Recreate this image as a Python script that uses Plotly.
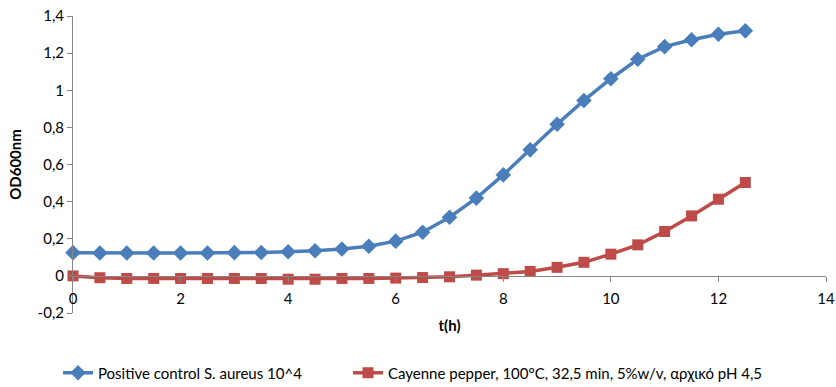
import plotly.graph_objects as go

t_h = [0, 0.5, 1, 1.5, 2, 2.5, 3, 3.5, 4, 4.5, 5, 5.5, 6, 6.5, 7, 7.5, 8, 8.5, 9, 9.5, 10, 10.5, 11, 11.5, 12, 12.5]
positive_control = [0.125, 0.123, 0.123, 0.123, 0.123, 0.123, 0.125, 0.126, 0.13, 0.135, 0.145, 0.16, 0.187,
                    0.235, 0.316, 0.419, 0.544, 0.679, 0.817, 0.945, 1.062, 1.167, 1.235, 1.272, 1.302, 1.32]
cayenne = [0.0, -0.01, -0.014, -0.014, -0.014, -0.014, -0.014, -0.014, -0.018, -0.018, -0.014, -0.014, -0.012,
           -0.009, -0.005, 0.004, 0.012, 0.024, 0.046, 0.073, 0.117, 0.167, 0.239, 0.323, 0.413, 0.503]
y_tickvals = [-0.2, 0, 0.2, 0.4, 0.6, 0.8, 1.0, 1.2, 1.4]
y_ticktext = ["-0,2", "0", "0,2", "0,4", "0,6", "0,8", "1", "1,2", "1,4"]
x_tickvals = [0, 2, 4, 6, 8, 10, 12, 14]
series_names = ["Positive control S. aureus 10^4",
                "Cayenne pepper, 100°C, 32,5 min, 5%w/v, αρχικό pH 4,5"]

FONT = "Lato, Open Sans, sans-serif"
AXIS_COLOR = "#868686"

fig = go.Figure()
fig.add_trace(go.Scatter(
    x=t_h, y=positive_control, name=series_names[0], mode="lines+markers",
    line=dict(color="#4A7EBB", width=3.5),
    marker=dict(symbol="diamond", size=12, color="#4A7EBB"),
    cliponaxis=False, legend="legend"))
fig.add_trace(go.Scatter(
    x=t_h, y=cayenne, name=series_names[1], mode="lines+markers",
    line=dict(color="#BE4B48", width=3.5),
    marker=dict(symbol="square", size=11, color="#BE4B48"),
    cliponaxis=False, legend="legend2"))

legend_common = dict(orientation="h", xref="container", xanchor="left",
                     y=14 / 387, yref="container", yanchor="middle",
                     font=dict(size=15), bgcolor="rgba(0,0,0,0)")

fig.update_layout(
    width=836, height=387,
    margin=dict(l=73, r=10, t=16, b=74, autoexpand=False),
    paper_bgcolor="white", plot_bgcolor="white",
    font=dict(family=FONT, size=14, color="#000000"),
    showlegend=True,
    legend=dict(x=58 / 836, **legend_common),
    legend2=dict(x=348 / 836, **legend_common),
    xaxis=dict(range=[0, 14], tickvals=x_tickvals, ticks="outside", ticklen=5,
               tickcolor=AXIS_COLOR, showline=True, linecolor=AXIS_COLOR, linewidth=1,
               showgrid=False, zeroline=False, anchor="free", position=0.125,
               automargin=False, ticklabelstandoff=4,
               title=dict(text="<b>t(h)</b>", font=dict(size=15), standoff=14),
               tickfont=dict(size=15)),
    yaxis=dict(range=[-0.2, 1.4], tickvals=y_tickvals, ticktext=y_ticktext,
               ticks="outside", ticklen=5, tickcolor=AXIS_COLOR, showline=True,
               linecolor=AXIS_COLOR, linewidth=1, showgrid=False, zeroline=False,
               automargin=False,
               title=dict(text="<b>OD600nm</b>", font=dict(size=15), standoff=12),
               tickfont=dict(size=15)),
)

fig.write_html("out.html")
